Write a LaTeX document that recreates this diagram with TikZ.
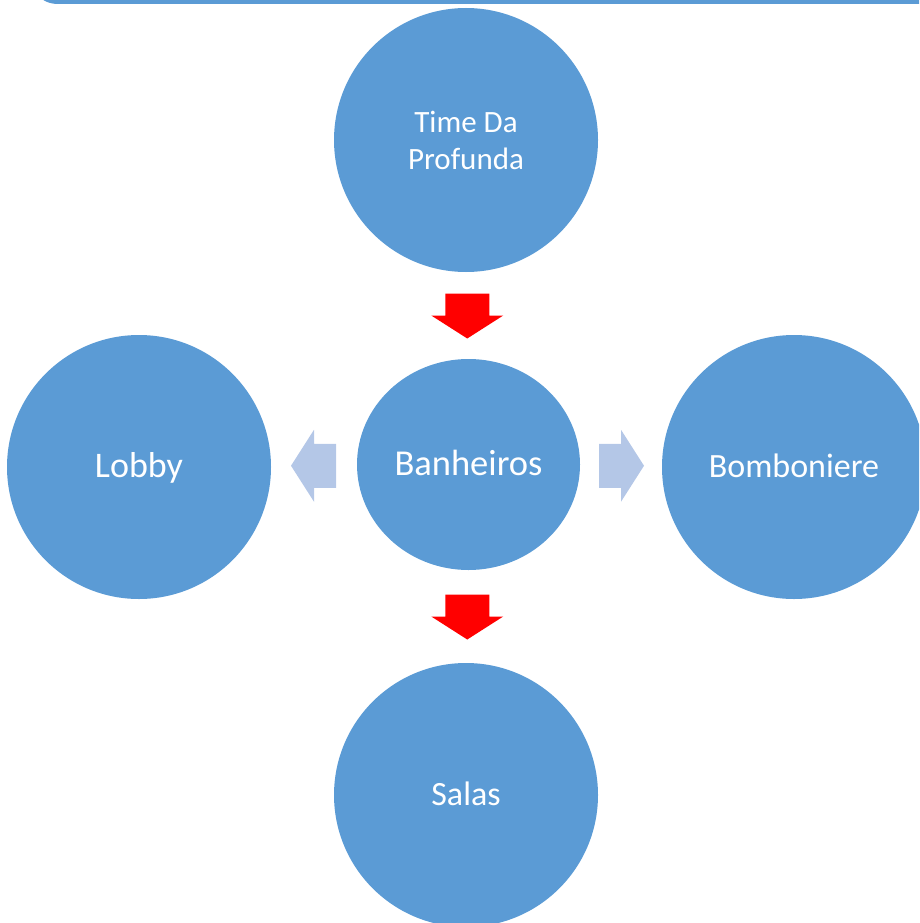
\documentclass[tikz,border=0pt]{standalone}
\usepackage{fontspec}
\setmainfont{Carlito}
\usetikzlibrary{shapes.geometric,calc}
\definecolor{placeblue}{HTML}{5B9BD5}
\definecolor{paleblue}{HTML}{B4C7E7}
\definecolor{arrowred}{HTML}{FF0000}
\tikzset{
	place/.style={circle, fill=placeblue, text=white, inner sep=0pt, minimum size=264pt, align=center},
	oneline/.style={text height=27pt, text depth=7pt, font=\fontsize{#1}{40}\selectfont},
	blockarrow/.pic={\fill (-22,-22)--(0,-22)--(0,-36)--(23,0)--(0,36)--(0,22)--(-22,22)--cycle;}
}
\begin{document}
\begin{tikzpicture}[x=1pt, y=-1pt, line join=round]
	\useasboundingbox (0,0) rectangle (919,923);
	\clip (0,0) rectangle (919,923);
	% bande du cadre en haut
	\fill[placeblue, rounded corners=30pt] (28,-60) rectangle (990,4);
	% cercles
	\node[place, font=\fontsize{31}{37}\selectfont] (tdp) at (466,140) {Time Da\\Profunda};
	\node[place, oneline=36.5, ellipse, minimum width=223pt, minimum height=211pt, text depth=6pt] (ban) at (468.5,464.5) {Banheiros};
	\node[place, oneline=36] (lob) at (139,467) {Lobby};
	\node[place, oneline=34] (bom) at (794,467) {Bomboniere};
	\node[place, oneline=34] (sal) at (466,795) {Salas};
	% fleches
	\pic[fill=arrowred, rotate=-90] at ($(tdp.south)!.5!(ban.north)$) {blockarrow};
	\pic[fill=arrowred, rotate=-90] at ($(ban.south)!.5!(sal.north)$) {blockarrow};
	\pic[fill=paleblue, rotate=180] at ($(ban.west)!.5!(lob.east)$) {blockarrow};
	\pic[fill=paleblue] at ($(ban.east)!.5!(bom.west)$) {blockarrow};
\end{tikzpicture}
\end{document}
